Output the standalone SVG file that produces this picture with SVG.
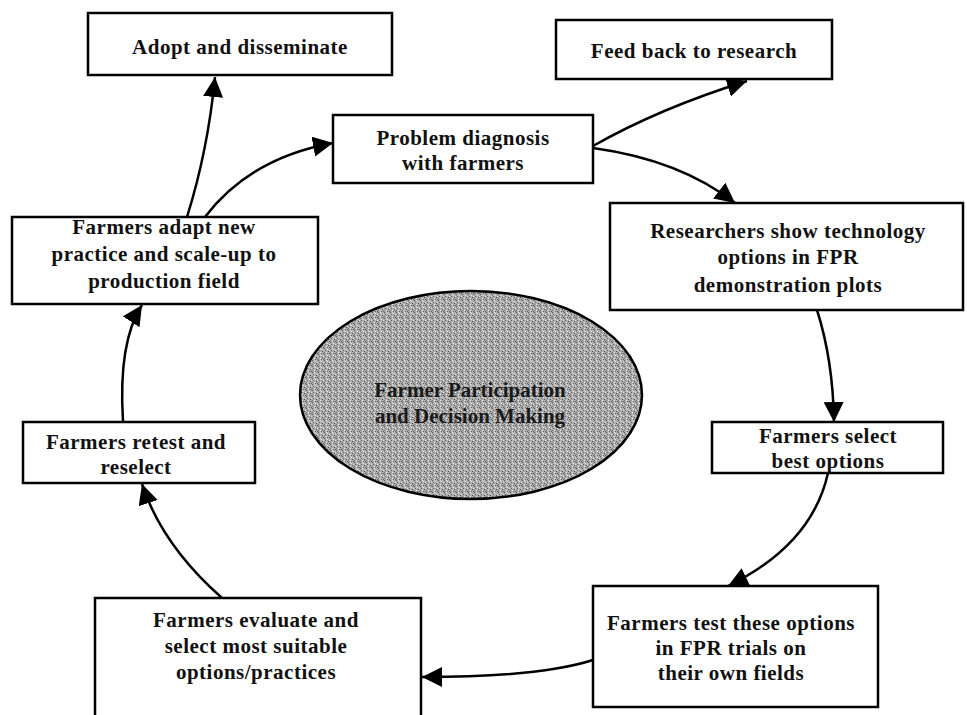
<svg xmlns="http://www.w3.org/2000/svg" width="967" height="715" viewBox="0 0 967 715">
<defs>
<style>
.box{fill:#fff;stroke:#000;stroke-width:2.5}
.t{font-family:"Liberation Serif","Times New Roman",serif;font-weight:bold;font-size:21px;letter-spacing:0.5px;fill:#111;text-anchor:middle}
.c{fill:none;stroke:#000;stroke-width:2.5}
.et{font-family:"Liberation Serif","Times New Roman",serif;font-weight:bold;font-size:21px;fill:#1a1a1a;text-anchor:middle}
</style>
<marker id="ah" markerUnits="userSpaceOnUse" markerWidth="22" markerHeight="22" refX="20" refY="10" orient="auto">
<path d="M0,0 L20,10 L0,20 z" fill="#000"/>
</marker>
<pattern id="dith" width="6" height="6" patternUnits="userSpaceOnUse">
<rect width="6" height="6" fill="#acacac"/>
<rect x="0" y="0" width="1" height="1" fill="#555"/>
<rect x="3" y="1" width="1" height="1" fill="#e6e6e6"/>
<rect x="1" y="2" width="1" height="1" fill="#666"/>
<rect x="4" y="3" width="1" height="1" fill="#4a4a4a"/>
<rect x="2" y="4" width="1" height="1" fill="#eee"/>
<rect x="5" y="5" width="1" height="1" fill="#5a5a5a"/>
<rect x="5" y="2" width="1" height="1" fill="#ddd"/>
<rect x="0" y="4" width="1" height="1" fill="#777"/>
<rect x="2" y="0" width="1" height="1" fill="#dcdcdc"/>
<rect x="3" y="5" width="1" height="1" fill="#6a6a6a"/>
</pattern>
</defs>
<rect width="967" height="715" fill="#fff"/>

<g id="connectors">
<path class="c" d="M187,217 Q208,150 215,77" marker-end="url(#ah)"/>
<path class="c" d="M205,217 Q250,158 333,143" marker-end="url(#ah)"/>
<path class="c" d="M593,146 Q660,108 747,81" marker-end="url(#ah)"/>
<path class="c" d="M593,148 Q680,160 735,203" marker-end="url(#ah)"/>
<path class="c" d="M817,310 Q833,360 834,422" marker-end="url(#ah)"/>
<path class="c" d="M828,473 Q812,545 728,586" marker-end="url(#ah)"/>
<path class="c" d="M593,660 Q540,677 422,677" marker-end="url(#ah)"/>
<path class="c" d="M222,598 Q162,545 142,484" marker-end="url(#ah)"/>
<path class="c" d="M123,421 Q118,342 142,305" marker-end="url(#ah)"/>
</g>

<g id="adopt">
<rect class="box" x="88" y="13" width="304" height="62"/>
<text class="t" x="240" y="54">Adopt and disseminate</text>
</g>

<g id="feedback">
<rect class="box" x="556" y="20" width="276" height="59"/>
<text class="t" x="694" y="58">Feed back to research</text>
</g>

<g id="problem">
<rect class="box" x="333" y="115" width="260" height="68"/>
<text class="t" x="463" y="145">Problem diagnosis</text>
<text class="t" x="463" y="170">with farmers</text>
</g>

<g id="adapt">
<rect class="box" x="12" y="217" width="306" height="87"/>
<text class="t" x="164" y="234">Farmers adapt new</text>
<text class="t" x="164" y="261">practice and scale-up to</text>
<text class="t" x="164" y="288">production field</text>
</g>

<g id="researchers">
<rect class="box" x="610" y="203" width="353" height="107"/>
<text class="t" x="788" y="238">Researchers show technology</text>
<text class="t" x="788" y="264">options in FPR</text>
<text class="t" x="788" y="292">demonstration plots</text>
</g>

<g id="center">
<ellipse cx="471" cy="395" rx="171" ry="104" fill="url(#dith)" stroke="#000" stroke-width="2.5"/>
<text class="et" x="470" y="397">Farmer Participation</text>
<text class="et" x="470" y="423">and Decision Making</text>
</g>

<g id="retest">
<rect class="box" x="23" y="422" width="232" height="61"/>
<text class="t" x="136" y="449">Farmers retest and</text>
<text class="t" x="136" y="474">reselect</text>
</g>

<g id="select">
<rect class="box" x="712" y="422" width="231" height="51"/>
<text class="t" x="828" y="443">Farmers select</text>
<text class="t" x="828" y="468">best options</text>
</g>

<g id="evaluate">
<rect class="box" x="95" y="598" width="326" height="140"/>
<text class="t" x="256" y="627">Farmers evaluate and</text>
<text class="t" x="256" y="653">select most suitable</text>
<text class="t" x="256" y="679">options/practices</text>
</g>

<g id="test">
<rect class="box" x="593" y="586" width="285" height="121"/>
<text class="t" x="731" y="630">Farmers test these options</text>
<text class="t" x="731" y="655">in FPR trials on</text>
<text class="t" x="731" y="680">their own fields</text>
</g>
</svg>
